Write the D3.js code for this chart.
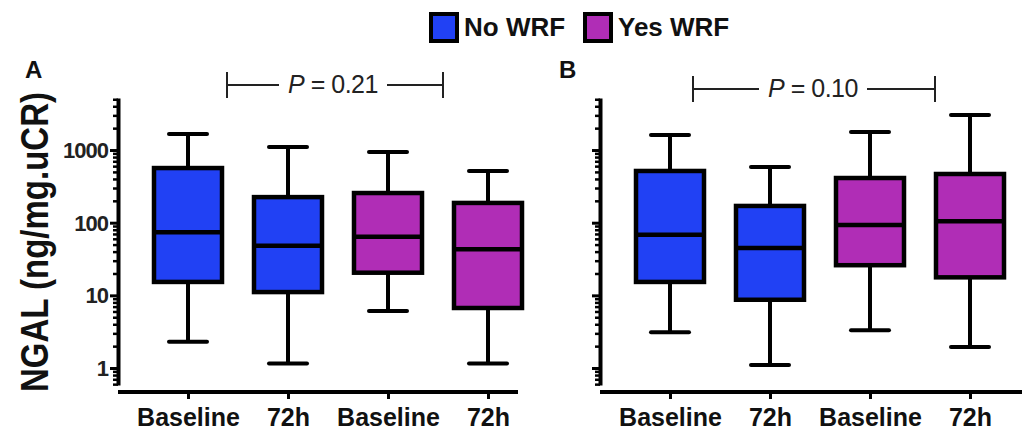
<!DOCTYPE html>
<html>
<head>
<meta charset="utf-8">
<script src="https://cdn.jsdelivr.net/npm/d3@7"></script>
<style>
  body { margin: 0; background: #fff; }
  svg { display: block; font-family: 'Liberation Sans', Arial, sans-serif; }
</style>
</head>
<body>
<svg id="chart" width="1025" height="433"></svg>
<script>
// categories
const timepoints = ['Baseline', '72h', 'Baseline', '72h'];
const groupOf = ['No WRF', 'No WRF', 'Yes WRF', 'Yes WRF'];
const legendLabels = ['No WRF', 'Yes WRF'];
const majorTicks = [1, 10, 100, 1000];

// panel A box stats (ng/mg.uCR)
const aLow = [2.3, 1.15, 6.1, 1.15];
const aQ1 = [15.3, 11.1, 20.5, 6.7];
const aMedian = [74, 48, 64, 43];
const aQ3 = [565, 225, 256, 187];
const aHigh = [1660, 1100, 940, 515];

// panel B box stats
const bLow = [3.1, 1.1, 3.3, 1.95];
const bQ1 = [15.3, 8.7, 26, 17.7];
const bMedian = [68, 45, 93, 105];
const bQ3 = [515, 170, 412, 468];
const bHigh = [1610, 585, 1770, 3030];

const pLabels = ['0.21', '0.10'];

const colors = d3.scaleOrdinal().domain(legendLabels).range(['#2141f4', '#b02db6']);
const svg = d3.select('#chart');
const font = "'Liberation Sans', Arial, sans-serif";

const y = d3.scaleLog().domain([0.584, 5200]).range([385, 98]);

const minorTicks = [];
[0.1, 1, 10, 100, 1000].forEach(d => {
  for (let k = 2; k <= 9; k++) {
    const v = k * d;
    if (v >= y.domain()[0] && v <= y.domain()[1]) minorTicks.push(v);
  }
});

function panel(cfg) {
  const g = svg.append('g');
  const x = d3.scalePoint().domain(d3.range(4)).range([cfg.x0 + 70, cfg.x0 + 370]);

  // y axis: minor then major
  g.append('g').attr('transform', `translate(${cfg.x0},0)`)
    .call(d3.axisLeft(y).tickValues(minorTicks).tickSize(5).tickSizeOuter(0).tickFormat(''))
    .call(a => a.select('.domain').remove())
    .call(a => a.selectAll('line').attr('stroke', '#000').attr('stroke-width', 2.5));
  const yAxis = g.append('g').attr('transform', `translate(${cfg.x0},0)`)
    .call(d3.axisLeft(y).tickValues(majorTicks).tickSize(8).tickSizeOuter(0)
      .tickFormat(cfg.labels ? d3.format('d') : ''));
  yAxis.select('.domain').attr('stroke', '#000').attr('stroke-width', 4);
  yAxis.selectAll('line').attr('stroke', '#000').attr('stroke-width', 3);
  yAxis.selectAll('text').attr('font-family', font).attr('font-weight', 'bold')
    .attr('font-size', 22).attr('fill', '#222').attr('x', -10).attr('dy', '0.34em')
    .attr('letter-spacing', -1);

  // x axis
  g.append('line').attr('x1', cfg.x0).attr('x2', cfg.x1).attr('y1', 392).attr('y2', 392)
    .attr('stroke', '#000').attr('stroke-width', 4);
  const xAxis = g.append('g').attr('transform', 'translate(0,392)')
    .call(d3.axisBottom(x).tickSize(7).tickSizeOuter(0).tickFormat(i => timepoints[i]));
  xAxis.select('.domain').remove();
  xAxis.selectAll('line').attr('stroke', '#000').attr('stroke-width', 3);
  xAxis.selectAll('text').attr('font-family', font).attr('font-weight', 'bold')
    .attr('font-size', 25).attr('fill', '#111').attr('y', 16);

  // boxes
  const bw = 68, cw = 38;
  const data = d3.range(4).map(i => ({
    i, low: cfg.low[i], q1: cfg.q1[i], med: cfg.med[i], q3: cfg.q3[i], high: cfg.high[i]
  }));
  const box = g.selectAll('.box').data(data).enter().append('g').attr('class', 'box')
    .attr('transform', d => `translate(${x(d.i)},0)`);
  box.append('line').attr('y1', d => y(d.high)).attr('y2', d => y(d.low))
    .attr('stroke', '#000').attr('stroke-width', 4);
  box.append('line').attr('x1', -cw / 2).attr('x2', cw / 2)
    .attr('y1', d => y(d.high)).attr('y2', d => y(d.high))
    .attr('stroke', '#000').attr('stroke-width', 4).attr('stroke-linecap', 'round');
  box.append('line').attr('x1', -cw / 2).attr('x2', cw / 2)
    .attr('y1', d => y(d.low)).attr('y2', d => y(d.low))
    .attr('stroke', '#000').attr('stroke-width', 4).attr('stroke-linecap', 'round');
  box.append('rect').attr('x', -bw / 2).attr('width', bw)
    .attr('y', d => y(d.q3)).attr('height', d => y(d.q1) - y(d.q3))
    .attr('fill', d => colors(groupOf[d.i])).attr('stroke', '#000').attr('stroke-width', 4.5);
  box.append('line').attr('x1', -bw / 2).attr('x2', bw / 2)
    .attr('y1', d => y(d.med)).attr('y2', d => y(d.med))
    .attr('stroke', '#000').attr('stroke-width', 4.5);

  // panel letter
  g.append('text').attr('x', cfg.letterX).attr('y', 78).text(cfg.letter)
    .attr('font-family', font).attr('font-weight', 'bold').attr('font-size', 24).attr('fill', '#111');

  // P bracket
  const b = cfg.bracket;
  const br = g.append('g').attr('stroke', '#222').attr('stroke-width', 2);
  br.append('line').attr('x1', b[0]).attr('x2', b[0]).attr('y1', b[2] - 13).attr('y2', b[2] + 13);
  br.append('line').attr('x1', b[1]).attr('x2', b[1]).attr('y1', b[2] - 13).attr('y2', b[2] + 13);
  const tx = (b[0] + b[1]) / 2 + b[3];
  br.append('line').attr('x1', b[0]).attr('x2', tx - 54).attr('y1', b[2]).attr('y2', b[2]);
  br.append('line').attr('x1', tx + 54).attr('x2', b[1]).attr('y1', b[2]).attr('y2', b[2]);
  const t = g.append('text').attr('x', tx).attr('y', b[2] + 8).attr('text-anchor', 'middle')
    .attr('font-family', font).attr('font-size', 25).attr('fill', '#222').attr('letter-spacing', -0.5);
  t.append('tspan').attr('font-style', 'italic').text('P');
  t.append('tspan').text(' = ' + cfg.p);
}

panel({ x0: 118, x1: 518, labels: true, low: aLow, q1: aQ1, med: aMedian, q3: aQ3, high: aHigh,
  letter: 'A', letterX: 25, bracket: [227, 443, 85, -2], p: pLabels[0] });
panel({ x0: 600, x1: 1022, labels: false, low: bLow, q1: bQ1, med: bMedian, q3: bQ3, high: bHigh,
  letter: 'B', letterX: 559, bracket: [693, 935, 89, -1], p: pLabels[1] });

// y title
svg.append('text')
  .attr('transform', 'translate(48,242) rotate(-90) scale(1,1.2)')
  .attr('text-anchor', 'middle')
  .attr('font-family', font).attr('font-weight', 'bold').attr('font-size', 33).attr('fill', '#111')
  .text('NGAL (ng/mg.uCR)');

// legend
const legend = svg.append('g');
const lx = [429, 583];
legendLabels.forEach((l, i) => {
  legend.append('rect').attr('x', lx[i] + 2).attr('y', 14).attr('width', 26).attr('height', 27)
    .attr('fill', colors(l)).attr('stroke', '#000').attr('stroke-width', 4);
  legend.append('text').attr('x', lx[i] + 35).attr('y', 36).text(l)
    .attr('font-family', font).attr('font-weight', 'bold').attr('font-size', 26).attr('fill', '#111');
});
</script>
</body>
</html>
